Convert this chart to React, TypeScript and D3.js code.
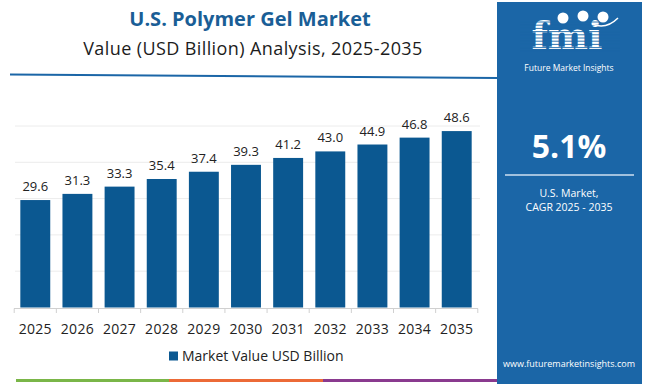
import React, { useEffect, useRef } from 'react'
import * as d3 from 'd3'

const years = ['2025', '2026', '2027', '2028', '2029', '2030', '2031', '2032', '2033', '2034', '2035']
const values = [29.6, 31.3, 33.3, 35.4, 37.4, 39.3, 41.2, 43.0, 44.9, 46.8, 48.6]
const gridTicks = [0, 10, 20, 30, 40, 50]
const seriesName = 'Market Value USD Billion'
const cagrLabel = '5.1%'

const FONT = "'Open Sans', 'Noto Sans', sans-serif"
const BAR = '#0b5891'
const PANEL = '#1b66a7'

export default function App() {
  const ref = useRef<SVGSVGElement>(null)

  useEffect(() => {
    const svg = d3.select(ref.current)
    svg.selectAll('*').remove()

    svg.append('rect').attr('width', 650).attr('height', 384).attr('fill', '#fff')

    // titles
    svg.append('text').attr('x', 250).attr('y', 26).attr('text-anchor', 'middle')
      .attr('font-family', FONT).attr('font-weight', 700).attr('font-size', 20)
      .attr('fill', '#1a5e96').text('U.S. Polymer Gel Market')
    svg.append('text').attr('x', 253).attr('y', 55).attr('text-anchor', 'middle')
      .attr('font-family', FONT).attr('font-size', 18).attr('letter-spacing', 0.4).attr('fill', '#1c1c1c')
      .text('Value (USD Billion) Analysis, 2025-2035')

    svg.append('line').attr('x1', 10).attr('x2', 498).attr('y1', 74.5).attr('y2', 78)
      .attr('stroke', '#1b66a7').attr('stroke-width', 2)

    // chart
    const x = d3.scaleBand().domain(years).range([14, 478]).paddingInner(0.29).paddingOuter(0.15)
    const y = d3.scaleLinear().domain([0, 50]).range([307.5, 126])

    const g = svg.append('g')
    g.selectAll('line.grid').data(gridTicks.slice(1)).join('line')
      .attr('x1', 15).attr('x2', 480)
      .attr('y1', d => y(d)).attr('y2', d => y(d))
      .attr('stroke', '#ececec').attr('stroke-width', 1)

    g.selectAll('rect.bar').data(values).join('rect')
      .attr('x', (d, i) => x(years[i])!)
      .attr('width', x.bandwidth())
      .attr('y', d => y(d))
      .attr('height', d => y(0) - y(d))
      .attr('fill', BAR)

    g.selectAll('text.val').data(values).join('text')
      .attr('x', (d, i) => x(years[i])! + x.bandwidth() / 2)
      .attr('y', d => y(d) - 9)
      .attr('text-anchor', 'middle')
      .attr('font-family', FONT).attr('font-size', 13).attr('fill', '#222')
      .text(d => d.toFixed(1))

    // axis
    const step = x.step()
    const start = x(years[0])! - (step - x.bandwidth()) / 2
    g.append('line').attr('x1', 14).attr('x2', 478).attr('y1', 308.5).attr('y2', 308.5)
      .attr('stroke', '#d0d0d0')
    g.selectAll('line.tick').data(d3.range(years.length + 1)).join('line')
      .attr('x1', i => start + i * step).attr('x2', i => start + i * step)
      .attr('y1', 308.5).attr('y2', 313).attr('stroke', '#d0d0d0')
    g.selectAll('text.year').data(years).join('text')
      .attr('x', d => x(d)! + x.bandwidth() / 2).attr('y', 334)
      .attr('text-anchor', 'middle')
      .attr('font-family', FONT).attr('font-size', 14).attr('letter-spacing', 0.3).attr('fill', '#222')
      .text(d => d)

    // legend
    svg.append('rect').attr('x', 169).attr('y', 351.5).attr('width', 9).attr('height', 9).attr('fill', BAR)
    svg.append('text').attr('x', 182).attr('y', 361)
      .attr('font-family', FONT).attr('font-size', 14).attr('fill', '#222').text(seriesName)

    // bottom colour strip
    const strip = [[16, 169, '#7ab648'], [169, 323, '#ec6a37'], [323, 497, '#8a3a8f']] as const
    strip.forEach(([a, b, c]) => {
      svg.append('rect').attr('x', a).attr('y', 379).attr('width', b - a).attr('height', 3).attr('fill', c)
    })

    // right panel
    svg.append('rect').attr('x', 497).attr('y', 2).attr('width', 145).attr('height', 382).attr('fill', PANEL)

    const cx = 569
    const logo = svg.append('g')
    logo.append('text').attr('x', cx - 2).attr('y', 49).attr('text-anchor', 'middle')
      .attr('font-family', "'DejaVu Serif', serif").attr('font-weight', 700).attr('font-size', 38)
      .attr('fill', '#fff').text('fmi')
    d3.range(22, 52, 3.2).forEach(yy => {
      logo.append('line').attr('x1', 520).attr('x2', 620).attr('y1', yy).attr('y2', yy)
        .attr('stroke', PANEL).attr('stroke-width', 0.9)
    })
    ;[[563, 18], [583, 16], [603, 17]].forEach(([px, py]) => {
      logo.append('circle').attr('cx', px).attr('cy', py).attr('r', 5.5).attr('fill', '#fff')
    })
    logo.append('path').attr('d', 'M592,24 Q606,30 618,18').attr('fill', 'none')
      .attr('stroke', '#fff').attr('stroke-width', 1.5)
    logo.append('text').attr('x', cx).attr('y', 71).attr('text-anchor', 'middle')
      .attr('font-family', FONT).attr('font-size', 8.5).attr('fill', '#fff').text('Future Market Insights')

    svg.append('text').attr('x', cx).attr('y', 158).attr('text-anchor', 'middle')
      .attr('font-family', FONT).attr('font-weight', 700).attr('font-size', 32).attr('fill', '#fff')
      .text(cagrLabel)
    svg.append('line').attr('x1', 505).attr('x2', 634).attr('y1', 175).attr('y2', 175)
      .attr('stroke', '#cfe0f0').attr('stroke-width', 1.5)
    svg.append('text').attr('x', cx).attr('y', 197).attr('text-anchor', 'middle')
      .attr('font-family', FONT).attr('font-size', 10.5).attr('fill', '#fff').text('U.S. Market,')
    svg.append('text').attr('x', cx).attr('y', 211).attr('text-anchor', 'middle')
      .attr('font-family', FONT).attr('font-size', 10.5).attr('fill', '#fff').text('CAGR 2025 - 2035')
    svg.append('text').attr('x', cx).attr('y', 367).attr('text-anchor', 'middle')
      .attr('font-family', FONT).attr('font-size', 9).attr('fill', '#fff').text('www.futuremarketinsights.com')
  }, [])

  return (
    <svg ref={ref} width={650} height={384}
      style={{ position: 'absolute', left: 0, top: 0, display: 'block' }} />
  )
}
